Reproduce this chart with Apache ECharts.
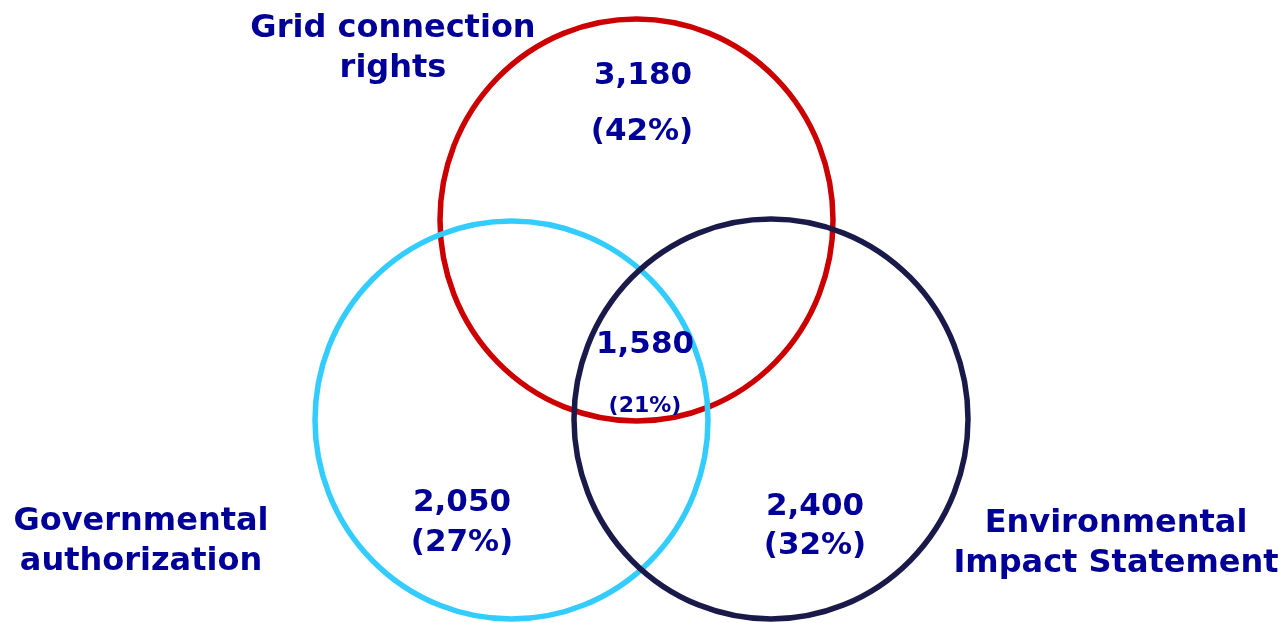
<!DOCTYPE html>
<html>
<head>
<meta charset="utf-8">
<script src="https://cdn.jsdelivr.net/npm/echarts@6/dist/echarts.min.js"></script>
<style>
html,body{margin:0;padding:0;background:#fff;}
#chart{width:1283px;height:623px;}
</style>
</head>
<body>
<div id="chart"></div>
<script>
// ---- data ----
const setNames = ['Grid connection\nrights', 'Governmental\nauthorization', 'Environmental\nImpact Statement'];
const regionNames = ['Grid connection only', 'All three', 'Governmental authorization', 'Environmental Impact Statement'];
const regionCounts = [3180, 1580, 2050, 2400];
const regionShares = [42, 21, 27, 32];

// ---- layout (plot units = pixels) ----
const circleCenters = [[636.5, 220], [511.5, 420], [771, 419]];
const circleRadiusX = [196.5, 196.5, 197];
const circleRadiusY = [201, 199, 200];
const circleColors = ['#cc0000', '#33ccff', '#1a1a4a'];
const setLabelPos = [[393, 49], [141, 542], [1116, 544]];
const countPos = [[643, 76], [645, 345], [462, 503], [815, 507]];
const sharePos = [[642, 132], [645, 406], [462, 543], [815, 546]];
const shareSize = [31, 22, 31, 31];

const textColor = '#000099';
const font = 'DejaVu Sans';

const chart = echarts.init(document.getElementById('chart'));

const circleData = circleCenters.map((c, i) => [c[0], c[1], circleRadiusX[i], circleRadiusY[i], i]);

const labelBase = {
  show: true, position: 'inside',
  formatter: p => p.name,
  color: textColor, opacity: 1, fontFamily: font, fontWeight: 'bold', fontSize: 31
};

chart.setOption({
  animation: false,
  backgroundColor: '#ffffff',
  grid: { left: 0, right: 0, top: 0, bottom: 0, containLabel: false },
  xAxis: { type: 'value', min: 0, max: 1283, show: false },
  yAxis: { type: 'value', min: 0, max: 623, inverse: true, show: false },
  series: [
    {
      type: 'custom',
      data: circleData,
      renderItem: function (params, api) {
        const c = api.coord([api.value(0), api.value(1)]);
        const rx = api.size([api.value(2), 0])[0];
        const ry = api.size([0, api.value(3)])[1];
        const idx = api.value(4);
        return {
          type: 'circle',
          shape: { cx: c[0], cy: c[1], r: rx },
          originX: c[0], originY: c[1],
          scaleY: ry / rx,
          style: { fill: 'none', stroke: circleColors[idx], lineWidth: 5.5, strokeNoScale: true }
        };
      },
      silent: true,
      z: 1
    },
    {
      type: 'scatter',
      symbolSize: 0,
      itemStyle: { opacity: 1 },
      data: setLabelPos.map((p, i) => ({ value: p, name: setNames[i] })),
      label: Object.assign({}, labelBase, { fontSize: 32, lineHeight: 40, align: 'center' }),
      silent: true,
      z: 3
    },
    {
      type: 'scatter',
      symbolSize: 0,
      itemStyle: { opacity: 1 },
      data: countPos.map((p, i) => ({ value: p, name: regionCounts[i].toLocaleString('en-US') })),
      label: Object.assign({}, labelBase),
      silent: true,
      z: 3
    },
    {
      type: 'scatter',
      symbolSize: 0,
      itemStyle: { opacity: 1 },
      data: sharePos.map((p, i) => ({
        value: p, name: '(' + regionShares[i] + '%)',
        label: { fontSize: shareSize[i] }
      })),
      label: Object.assign({}, labelBase),
      silent: true,
      z: 3
    }
  ]
});
</script>
</body>
</html>
